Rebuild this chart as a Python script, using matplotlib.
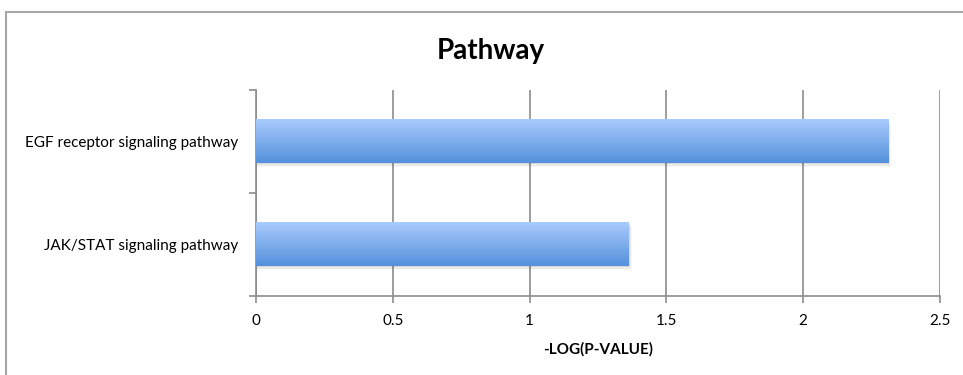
import numpy as np
import matplotlib
matplotlib.use("Agg")
import matplotlib.pyplot as plt
from matplotlib.patches import Rectangle
from matplotlib.colors import LinearSegmentedColormap

plt.rcParams['font.family'] = ['Lato', 'DejaVu Sans']

categories = ["JAK/STAT signaling pathway", "EGF receptor signaling pathway"]
values = [1.363, 2.31]
x_ticks = [0, 0.5, 1, 1.5, 2, 2.5]
x_tick_labels = ["0", "0.5", "1", "1.5", "2", "2.5"]
title = "Pathway"
x_label = "-LOG(P-VALUE)"

W, H = 963, 375
fig = plt.figure(figsize=(W / 100, H / 100), dpi=100)
fig.patch.set_facecolor("white")

# outer chart frame
fig.patches.append(Rectangle((6 / W, -0.1), 1.2, 1 - 12 / H + 0.1,
                             transform=fig.transFigure, fill=False,
                             edgecolor="#a6a6a6", linewidth=1.5, zorder=0))

ax = fig.add_axes([256 / W, 1 - 296 / H, (940 - 256) / W, (296 - 90) / H])
ax.set_xlim(0, 2.5)
ax.set_ylim(-0.5, 1.5)

grey = "#8c8c8c"
for s in ["top", "right"]:
    ax.spines[s].set_visible(False)
for s in ["left", "bottom"]:
    ax.spines[s].set_color(grey)
    ax.spines[s].set_linewidth(1.2)

ax.set_xticks(x_ticks)
ax.set_xticklabels(x_tick_labels)
ax.xaxis.grid(True, color=grey, linewidth=1.2)
ax.set_axisbelow(True)

ax.set_yticks(range(len(categories)))
ax.set_yticklabels(categories)
ax.set_yticks([-0.5, 0.5, 1.5], minor=True)
ax.tick_params(axis="y", which="major", length=0, pad=13, labelsize=11)
ax.tick_params(axis="y", which="minor", length=5, color=grey, width=1.2)
ax.tick_params(axis="x", length=5, color=grey, width=1.2, labelsize=11, pad=8)

bars = ax.barh(range(len(categories)), values, height=0.42, color="none",
               edgecolor="none", zorder=3)

cmap = LinearSegmentedColormap.from_list("bar", ["#5490dc", "#a9cbfd"])
grad = np.linspace(0, 1, 256).reshape(-1, 1)
for b in bars:
    x0, y0, w, h = b.get_x(), b.get_y(), b.get_width(), b.get_height()
    # soft drop shadow
    for k, a in enumerate([0.08, 0.05, 0.03]):
        dx = 0.004 * (k + 1)
        dy = 0.012 * (k + 1)
        ax.add_patch(Rectangle((x0, y0 - dy), w + dx, h, facecolor="black",
                               edgecolor="none", alpha=a, zorder=2))
    ax.imshow(grad, cmap=cmap, aspect="auto", origin="lower",
              extent=(x0, x0 + w, y0, y0 + h), zorder=4)
ax.set_xlim(0, 2.5)
ax.set_ylim(-0.5, 1.5)

ax.set_xlabel(x_label, fontsize=11, fontweight="bold", labelpad=10)
fig.text(491 / W, 1 - 51 / H, title, ha="center", va="center",
         fontsize=20, fontweight="bold")

fig.savefig("out.png", dpi=100, facecolor="white")
